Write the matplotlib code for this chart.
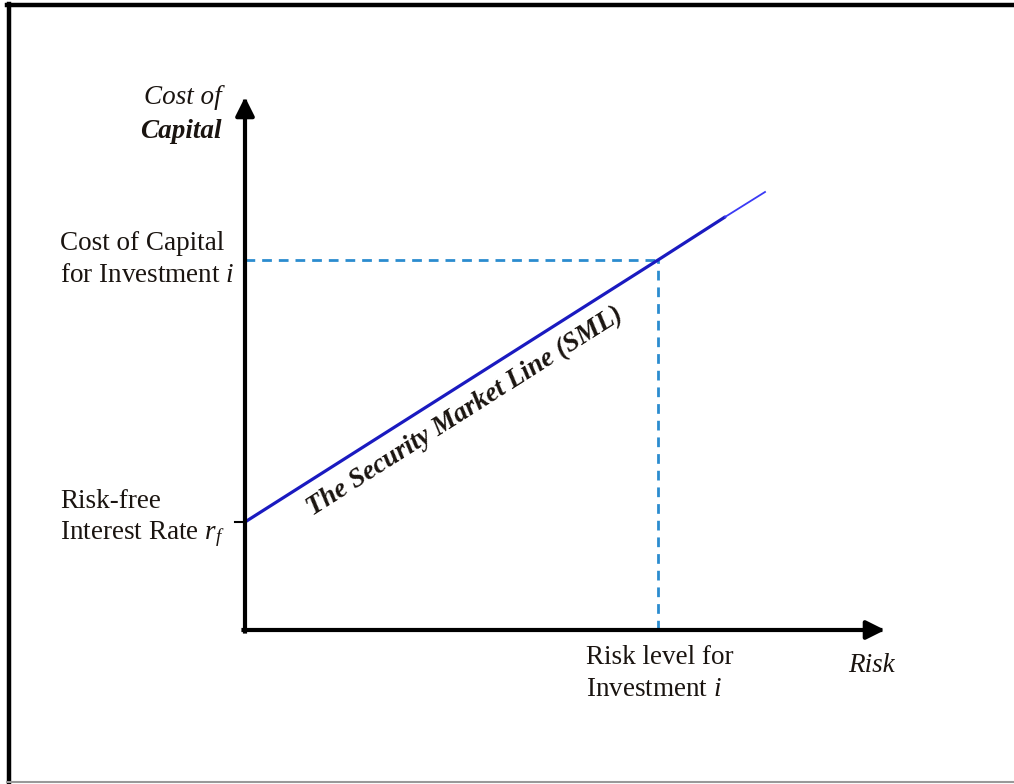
import matplotlib
matplotlib.use('Agg')
from matplotlib import pyplot as plt
from matplotlib.lines import Line2D

plt.rcParams['font.family'] = ['Liberation Serif', 'DejaVu Serif']
plt.rcParams['mathtext.fontset'] = 'custom'
plt.rcParams['mathtext.rm'] = 'Liberation Serif'
plt.rcParams['mathtext.it'] = 'Liberation Serif:italic'

# chart values (arbitrary units, origin at the axes crossing)
rf = 1.08
risk_i = 4.13
cost_i = 3.70
sml_risk = [0.0, 4.13, 4.80]
sml_cost = [1.08, 3.70, 4.13]
sml_tail_risk = [4.80, 5.20]
sml_tail_cost = [4.13, 4.38]
x_axis_end = 6.40
y_axis_end = 5.33

fig = plt.figure(figsize=(10.14, 7.84), dpi=100)
ax = fig.add_axes([0, 0, 1, 1])
ax.set_xlim(-2.45, 7.69)
ax.set_ylim(-1.54, 6.30)
ax.axis('off')

# frame of the picture
fig.add_artist(Line2D([0.0085, 0.0085], [0.003, 0.995], color='black', lw=3.2))
fig.add_artist(Line2D([0.007, 1.0], [0.993, 0.993], color='black', lw=3.2))
fig.add_artist(Line2D([0.007, 1.0], [0.003, 0.003], color='#999999', lw=1.5))

# axes with arrows
arrow = dict(arrowstyle='-|>', lw=3, color='black', mutation_scale=28,
             shrinkA=0, shrinkB=0, capstyle='projecting')
ax.annotate('', xy=(x_axis_end, 0), xytext=(-0.015, 0), arrowprops=arrow)
ax.annotate('', xy=(0, y_axis_end), xytext=(0, -0.015), arrowprops=arrow)
ax.plot([-0.1, 0], [rf, rf], color='black', lw=1.5)

# dashed guides
dash_col = '#2b8ccf'
ax.plot([0, risk_i], [cost_i, cost_i], color=dash_col, lw=2, ls=(0, (3.5, 2.5)))
ax.plot([risk_i, risk_i], [0, cost_i], color=dash_col, lw=2, ls=(0, (3.5, 2.5)))

# security market line
ax.plot(sml_risk, sml_cost, color='#1a1ac0', lw=2.3, solid_capstyle='round')
ax.plot(sml_tail_risk, sml_tail_cost, color='#3a3af5', lw=1.3)

txt = '#1a1410'
fs = 19.5
ax.text(-0.23, 5.32, 'Cost of', ha='right', va='center', fontsize=fs,
        style='italic', color=txt)
ax.text(-0.23, 4.99, 'Capital', ha='right', va='center', fontsize=fs,
        style='italic', weight='bold', color=txt)
ax.text(-1.85, 3.87, 'Cost of Capital', ha='left', va='center', fontsize=fs, color=txt)
ax.text(-1.85, 3.55, 'for Investment $i$', ha='left', va='center',
        fontsize=fs, color=txt)
ax.text(-1.85, 1.28, 'Risk-free', ha='left', va='center', fontsize=fs, color=txt)
ax.text(-1.85, 0.96, 'Interest Rate $r_f$', ha='left', va='center',
        fontsize=fs, color=txt)
ax.text(3.41, -0.27, 'Risk level for', ha='left', va='center', fontsize=fs, color=txt)
ax.text(3.41, -0.59, 'Investment $i$', ha='left', va='center',
        fontsize=fs, color=txt)
ax.text(6.03, -0.35, 'Risk', ha='left', va='center', fontsize=fs,
        style='italic', color=txt)
ax.text(2.20, 2.18, 'The Security Market Line (SML)', ha='center', va='center',
        fontsize=19.5, style='italic', weight='bold', color=txt, rotation=32.4,
        rotation_mode='anchor')

fig.savefig('out.png', dpi=100)
